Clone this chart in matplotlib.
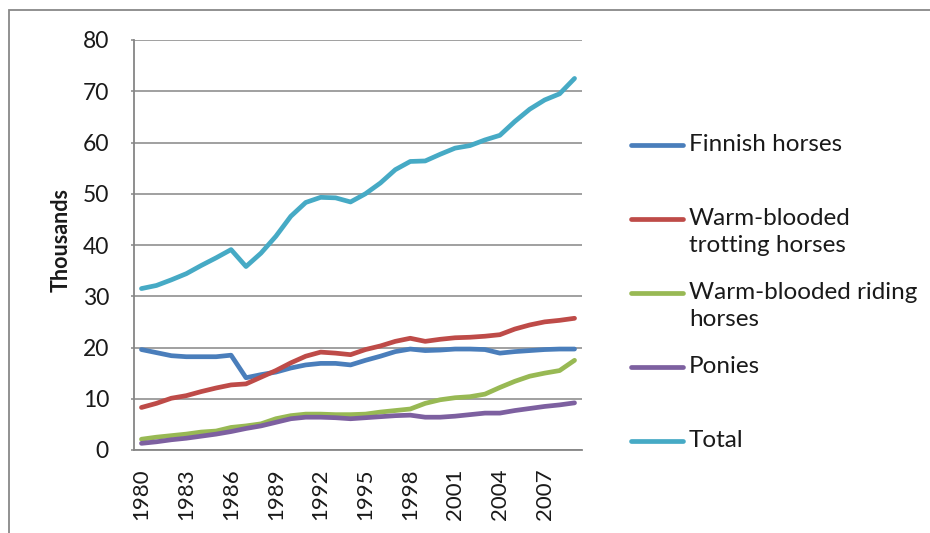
import matplotlib

matplotlib.use("Agg")
import matplotlib.pyplot as plt
from matplotlib.lines import Line2D
from matplotlib.patches import Rectangle

plt.rcParams["font.family"] = ["Lato", "DejaVu Sans"]

# Horse counts in Finland, thousands, 1980-2009
years = list(range(1980, 2010))
finnish = [19.6, 19.0, 18.4, 18.2, 18.2, 18.2, 18.5, 14.1, 14.7, 15.2,
           16.0, 16.6, 16.9, 16.9, 16.6, 17.5, 18.3, 19.2, 19.7, 19.4,
           19.5, 19.7, 19.7, 19.6, 18.9, 19.2, 19.4, 19.6, 19.7, 19.7]
trotting = [8.3, 9.1, 10.1, 10.6, 11.4, 12.1, 12.7, 12.9, 14.2, 15.5,
            17.0, 18.3, 19.1, 18.9, 18.6, 19.6, 20.3, 21.2, 21.8, 21.2,
            21.6, 21.9, 22.0, 22.2, 22.5, 23.6, 24.4, 25.0, 25.3, 25.7]
riding = [2.1, 2.5, 2.8, 3.1, 3.5, 3.7, 4.4, 4.7, 5.1, 6.1,
          6.7, 7.0, 7.0, 6.9, 6.9, 7.0, 7.4, 7.7, 8.0, 9.1,
          9.8, 10.2, 10.4, 10.9, 12.2, 13.4, 14.4, 15.0, 15.5, 17.5]
ponies = [1.3, 1.6, 2.0, 2.3, 2.7, 3.1, 3.6, 4.2, 4.7, 5.4,
          6.1, 6.4, 6.4, 6.3, 6.1, 6.3, 6.5, 6.7, 6.8, 6.4,
          6.4, 6.6, 6.9, 7.2, 7.2, 7.7, 8.1, 8.5, 8.8, 9.2]
total = [31.5, 32.1, 33.2, 34.4, 36.0, 37.5, 39.1, 35.8, 38.4, 41.7,
         45.6, 48.3, 49.3, 49.2, 48.4, 50.0, 52.1, 54.7, 56.3, 56.4,
         57.7, 58.9, 59.4, 60.5, 61.4, 64.1, 66.5, 68.3, 69.5, 72.5]

series_names = ["Finnish horses", "Warm-blooded\ntrotting horses",
                "Warm-blooded riding\nhorses", "Ponies", "Total"]
series_values = [finnish, trotting, riding, ponies, total]
colors = ["#4A7EBB", "#BE4B48", "#98B954", "#7D60A0", "#46AAC5"]

W, H = 930, 533
fig = plt.figure(figsize=(W / 100, H / 100), dpi=100)
ax = fig.add_axes([134 / W, 1 - 450 / H, 448 / W, 410 / H])

x = list(range(len(years)))
for vals, col in zip(series_values, colors):
    ax.plot(x, vals, color=col, linewidth=3.4, solid_capstyle="round",
            solid_joinstyle="round", zorder=3)

grid_col = "#868686"
ax.set_xlim(-0.5, len(years) - 0.5)
ax.set_ylim(0, 80)
ax.set_yticks(range(0, 81, 10))
ax.yaxis.grid(True, color=grid_col, linewidth=1.1)
ax.set_axisbelow(True)
ax.set_xticks(x[::3])
ax.set_xticklabels([str(y) for y in years[::3]], rotation=90, fontsize=16,
                   color="#1a1a1a")
ax.tick_params(axis="x", length=0, pad=13)
ax.tick_params(axis="y", length=2, width=1.1, color=grid_col, pad=16,
               labelsize=16.5, labelcolor="#1a1a1a")
for s in ["top", "right"]:
    ax.spines[s].set_visible(False)
for s in ["left", "bottom"]:
    ax.spines[s].set_color(grid_col)
    ax.spines[s].set_linewidth(1.3)

ax.set_ylabel("Thousands", fontsize=15.5, fontweight="bold", color="#1a1a1a")
ax.yaxis.set_label_coords(-0.14, 0.512)

# legend drawn by hand, Excel style spacing
for k, (name, col) in enumerate(zip(series_names, colors)):
    yy = 1 - (145 + 74 * k) / H
    fig.add_artist(Line2D([631 / W, 683 / W], [yy, yy], color=col,
                          linewidth=3.4, solid_capstyle="round",
                          transform=fig.transFigure))
    fig.text(689 / W, yy + 11 / H, name, fontsize=17.5, color="#1a1a1a",
             va="top", ha="left", linespacing=1.38)

# outer chart border (only top and left visible)
fig.add_artist(Rectangle((8.5 / W, -0.2), 1.2, 1.2 - 9.5 / H, fill=False,
                         edgecolor="#888888", linewidth=1.3,
                         transform=fig.transFigure))

fig.savefig("out.png", dpi=100)
